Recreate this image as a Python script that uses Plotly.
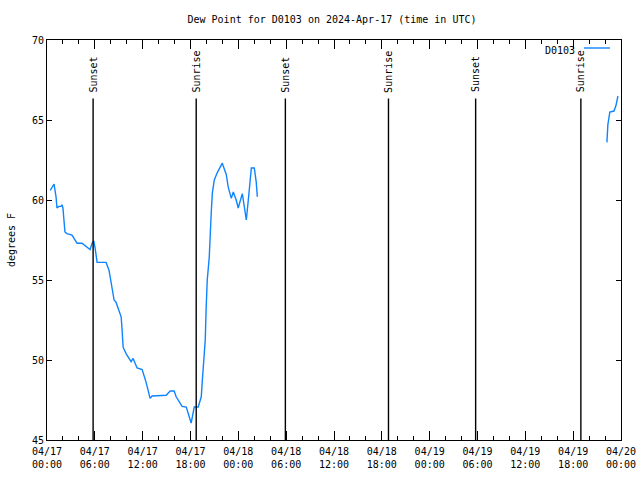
import plotly.graph_objects as go

# ---- data ----
times_day1 = ["2024-04-17 00:25", "2024-04-17 00:53", "2024-04-17 01:08", "2024-04-17 01:15",
              "2024-04-17 01:30", "2024-04-17 01:45", "2024-04-17 01:53", "2024-04-17 02:00",
              "2024-04-17 02:15", "2024-04-17 02:30", "2024-04-17 03:08", "2024-04-17 03:23",
              "2024-04-17 03:46", "2024-04-17 04:24", "2024-04-17 04:39", "2024-04-17 05:24",
              "2024-04-17 05:39", "2024-04-17 05:52", "2024-04-17 06:02", "2024-04-17 06:17",
              "2024-04-17 07:17", "2024-04-17 07:25", "2024-04-17 07:47", "2024-04-17 08:25",
              "2024-04-17 08:40", "2024-04-17 09:18", "2024-04-17 09:25", "2024-04-17 09:33",
              "2024-04-17 09:55", "2024-04-17 10:33", "2024-04-17 10:48", "2024-04-17 11:18",
              "2024-04-17 11:56", "2024-04-17 12:26", "2024-04-17 12:56", "2024-04-17 13:11",
              "2024-04-17 14:57", "2024-04-17 15:27", "2024-04-17 15:57", "2024-04-17 16:12",
              "2024-04-17 16:57", "2024-04-17 17:28", "2024-04-17 18:05", "2024-04-17 18:28",
              "2024-04-17 18:58", "2024-04-17 19:21", "2024-04-17 19:28", "2024-04-17 19:43",
              "2024-04-17 19:51", "2024-04-17 19:58", "2024-04-17 20:06", "2024-04-17 20:21",
              "2024-04-17 20:29", "2024-04-17 20:36", "2024-04-17 20:44", "2024-04-17 20:59",
              "2024-04-17 21:21", "2024-04-17 21:59", "2024-04-17 22:29", "2024-04-17 22:44",
              "2024-04-17 23:07", "2024-04-17 23:22", "2024-04-17 23:44", "2024-04-17 23:59",
              "2024-04-18 00:30", "2024-04-18 00:45", "2024-04-18 01:00", "2024-04-18 01:15",
              "2024-04-18 01:38", "2024-04-18 02:00", "2024-04-18 02:15", "2024-04-18 02:23"]
dew_day1 = [60.6, 61.0, 60.2, 59.5,
            59.6, 59.6, 59.7, 59.5,
            58.0, 57.9, 57.8, 57.6,
            57.3, 57.3, 57.2, 56.9,
            57.3, 57.45, 57.0, 56.1,
            56.1, 56.1, 55.6, 53.75,
            53.6, 52.7, 51.9, 50.8,
            50.4, 49.9, 50.1, 49.5,
            49.4, 48.6, 47.6, 47.75,
            47.8, 48.06, 48.06, 47.7,
            47.1, 47.06, 46.06, 47.06,
            47.06, 47.7, 48.6, 50.0,
            51.25, 53.3, 55.0, 56.4,
            57.5, 59.2, 60.4, 61.25,
            61.7, 62.3, 61.6, 60.8,
            60.1, 60.5, 60.0, 59.5,
            60.4, 59.7, 58.75, 60.0,
            62.0, 62.0, 61.1, 60.2]
times_day3 = ["2024-04-19 22:14", "2024-04-19 22:21", "2024-04-19 22:36",
              "2024-04-19 23:07", "2024-04-19 23:22", "2024-04-19 23:37"]
dew_day3 = [63.6, 64.7, 65.5, 65.56, 65.9, 66.5]

sun_times = ["2024-04-17 05:47", "2024-04-17 18:43", "2024-04-18 05:54",
             "2024-04-18 18:50", "2024-04-19 05:46", "2024-04-19 18:58"]
sun_labels = ["Sunset", "Sunrise", "Sunset", "Sunrise", "Sunset", "Sunrise"]

tick_vals = ["2024-04-17 00:00", "2024-04-17 06:00", "2024-04-17 12:00", "2024-04-17 18:00",
             "2024-04-18 00:00", "2024-04-18 06:00", "2024-04-18 12:00", "2024-04-18 18:00",
             "2024-04-19 00:00", "2024-04-19 06:00", "2024-04-19 12:00", "2024-04-19 18:00",
             "2024-04-20 00:00"]
tick_text = ["04/17<br>00:00", "04/17<br>06:00", "04/17<br>12:00", "04/17<br>18:00",
             "04/18<br>00:00", "04/18<br>06:00", "04/18<br>12:00", "04/18<br>18:00",
             "04/19<br>00:00", "04/19<br>06:00", "04/19<br>12:00", "04/19<br>18:00",
             "04/20<br>00:00"]
y_ticks = [45, 50, 55, 60, 65, 70]

series_name = "D0103"
line_color = "#0f84ff"
FONT = "DejaVu Sans Mono"

L, R, T, B = 47, 621, 40, 440
PW, PH = R - L, B - T

x_all = times_day1 + [None] + times_day3
y_all = dew_day1 + [None] + dew_day3

fig = go.Figure()
fig.add_trace(go.Scatter(x=x_all, y=y_all, mode="lines", name=series_name,
                         line=dict(color=line_color, width=1.4), connectgaps=False,
                         showlegend=False))

for t, lab in zip(sun_times, sun_labels):
    fig.add_shape(type="line", xref="x", yref="y", x0=t, x1=t, y0=45, y1=66.35,
                  line=dict(color="black", width=1.4))
    fig.add_annotation(x=t, y=66.6, xref="x", yref="y", text=lab, textangle=-90,
                       showarrow=False, yanchor="bottom", xanchor="center",
                       font=dict(family=FONT, size=10, color="black"))

# legend (text left, sample line right)
fig.add_annotation(x=(577 - L) / PW, y=(B - 50) / PH, xref="paper", yref="paper",
                   text=series_name, showarrow=False, xanchor="right", yanchor="middle",
                   font=dict(family=FONT, size=10, color="black"))
fig.add_shape(type="line", xref="paper", yref="paper",
              x0=(584 - L) / PW, x1=(610 - L) / PW,
              y0=(B - 48) / PH, y1=(B - 48) / PH,
              line=dict(color=line_color, width=1.4))

fig.update_layout(
    width=640, height=480,
    margin=dict(l=L, r=640 - R, t=T, b=480 - B),
    paper_bgcolor="white", plot_bgcolor="white",
    font=dict(family=FONT, size=10, color="black"),
    title=dict(text="Dew Point for D0103 on 2024-Apr-17 (time in UTC)",
               x=332 / 640, xanchor="center", y=1 - 19 / 480, yanchor="middle",
               font=dict(family=FONT, size=10, color="black")),
    showlegend=False,
)
fig.update_xaxes(
    range=["2024-04-17 00:00", "2024-04-20 00:00"], automargin=False,
    tickmode="array", tickvals=tick_vals, ticktext=tick_text,
    ticks="inside", ticklen=9, tickwidth=1, tickcolor="black", ticklabelstandoff=2,
    minor=dict(dtick=2 * 3600 * 1000, ticks="inside", ticklen=4, tickcolor="black"),
    showline=True, linecolor="black", linewidth=1, mirror="allticks",
    showgrid=False, zeroline=False,
    tickfont=dict(family=FONT, size=10, color="black"),
)
fig.update_yaxes(
    range=[45, 70], tickmode="array", tickvals=y_ticks, automargin=False,
    ticks="inside", ticklen=5, tickwidth=1, tickcolor="black",
    showline=True, linecolor="black", linewidth=1, mirror="allticks",
    showgrid=False, zeroline=False,
    title=dict(text="degrees F", standoff=14, font=dict(family=FONT, size=10)),
    tickfont=dict(family=FONT, size=10, color="black"),
)

fig.write_html("out.html")
